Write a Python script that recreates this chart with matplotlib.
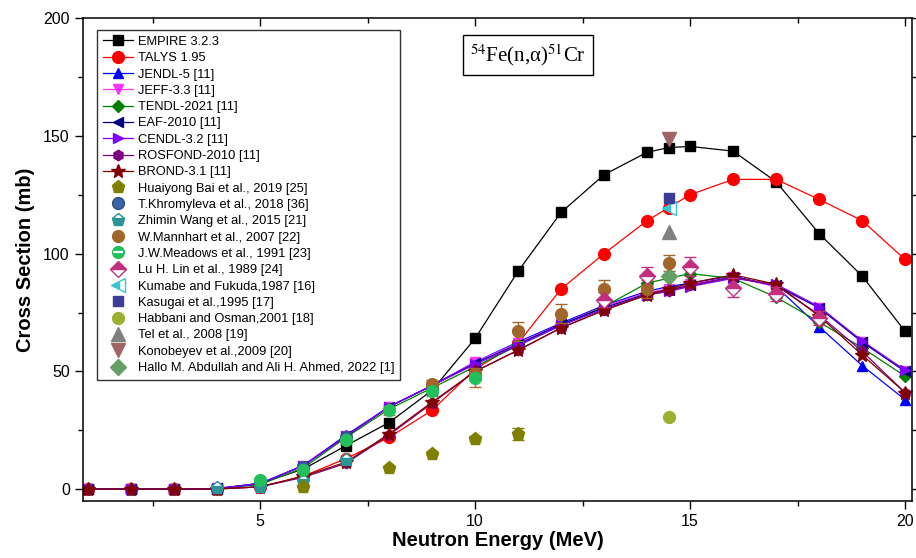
"""
54Fe(n,alpha)51Cr excitation function: model calcs, evaluations and measurements
"""

import matplotlib
matplotlib.use('Agg')
import matplotlib.pyplot as plt
from matplotlib.ticker import MultipleLocator

plt.rcParams['font.family'] = ['Liberation Sans', 'DejaVu Sans']
plt.rcParams['mathtext.fontset'] = 'stix'

# ---- data -------------------------------------------------------------
energy = [1, 2, 3, 4, 5, 6, 7, 8, 9, 10, 11, 12, 13, 14, 14.5, 15, 16, 17, 18, 19, 20]

empire = [0, 0, 0, 0.2, 2.5, 8.5, 18.5, 28.3, 42, 64, 92.5, 117.5, 133.5, 143, 145, 145.5, 143.5, 130.5, 108.5, 90.5, 67]
talys = [0, 0, 0, 0.1, 1, 5.5, 13, 22, 33.5, 51, 62, 85, 100, 114, 119.5, 125, 131.5, 131.5, 123, 114, 97.5]
jendl5 = [0, 0, 0, 0.3, 2.5, 10, 23, 35, 44, 54, 62.5, 70.5, 78, 84, 86, 87.5, 90.5, 86, 69, 52.5, 38]
jeff33 = [0, 0, 0, 0.3, 2.3, 10, 22.5, 35, 44, 54, 62, 70, 77.5, 83.5, 85, 87, 90, 86, 77, 62.5, 50]
tendl = [0, 0, 0, 0.2, 2, 9, 22, 34, 43, 52, 61, 69.5, 77.5, 87.5, 89.5, 91.5, 89.5, 81.5, 71, 60, 48]
eaf = [0, 0, 0, 0.3, 2.3, 10, 22.5, 35, 44, 53.5, 61.5, 70, 77, 83, 84.5, 86.5, 90, 86.5, 77, 62.5, 50]
cendl = [0, 0, 0, 0.3, 2.3, 10, 22.5, 35, 44, 53, 61, 69.5, 76.5, 82.5, 84, 86, 89.5, 87, 77.5, 63, 50.5]
rosfond = [0, 0, 0, 0.1, 1, 5, 11, 23, 36.5, 50, 59, 68.5, 76, 82.5, 84, 86.5, 90, 86.5, 74, 58.5, 41]
brond = [0, 0, 0, 0.1, 1, 5.5, 11.5, 23.5, 37, 50, 59, 68.5, 76, 82.5, 85, 87.5, 91, 87, 73.5, 57, 41]

bai_x = [6, 8, 9, 10, 11]
bai_y = [1, 9, 15, 21.5, 23.5]
bai_err = [0, 0, 0, 1, 2.5]

khrom_x = [5, 6, 7]
khrom_y = [2.5, 9.5, 22]

wang_x = [4, 5, 6, 7]
wang_y = [0.5, 1, 3.5, 12.5]

mann_x = [9, 10, 11, 12, 13, 14, 14.5]
mann_y = [44.5, 49, 67, 74.5, 85, 85, 96]
mann_err = [2, 2.5, 4, 4, 4, 4, 3.5]

mead_x = [5, 6, 7, 8, 9, 10]
mead_y = [3.8, 8.3, 21, 33.5, 41.5, 47]
mead_err = [1, 1, 1.5, 2, 2, 3.5]

lin_x = [13, 14, 15, 16, 17, 18]
lin_y = [80.5, 90.5, 94.5, 85.5, 83, 72.5]
lin_err = [3, 4, 4, 4, 3, 3]

single_x = [14.5]
kumabe_y = [119.5]
kasugai_y = [123.5]
habbani_y = [30.8]
tel_y = [109]
konob_y = [148.5]
hallo_y = [90.5]

# ---- figure -----------------------------------------------------------
fig = plt.figure(figsize=(9.16, 5.58), dpi=100)
ax = fig.add_axes([0.0906, 0.1022, 0.905, 0.8655])

handles = []

h, = ax.plot(energy, empire, '-s', color='black', lw=0.9, ms=7, label='EMPIRE 3.2.3')
handles.append(h)
h, = ax.plot(energy, talys, '-o', color='#ff0000', lw=0.9, ms=8.5, label='TALYS 1.95')
handles.append(h)

evals = [
    (jendl5, '^', '#0000ff', 'JENDL-5 [11]'),
    (jeff33, 'v', '#ff33ff', 'JEFF-3.3 [11]'),
    (tendl, 'D', '#008000', 'TENDL-2021 [11]'),
    (eaf, '<', '#000080', 'EAF-2010 [11]'),
    (cendl, '>', '#8000ff', 'CENDL-3.2 [11]'),
    (rosfond, 'h', '#800080', 'ROSFOND-2010 [11]'),
    (brond, '*', '#800000', 'BROND-3.1 [11]'),
]
for vals, mk, col, lab in evals:
    ms = 10 if mk == '*' else 7.5
    if mk == 'D':
        ms = 6.5
    h, = ax.plot(energy, vals, '-', marker=mk, color=col, lw=0.9, ms=ms, label=lab)
    handles.append(h)

# experimental data
def exp_err(x, y, err, mk, col, lab, ms=8.5, **kw):
    eb = ax.errorbar(x, y, yerr=err, fmt=mk, color=col, ms=ms, capsize=4,
                     elinewidth=1, capthick=1, label=lab, **kw)
    return eb[0]

h = exp_err(bai_x, bai_y, bai_err, 'p', '#808000', 'Huaiyong Bai et al., 2019 [25]', ms=9.5)
handles.append(h)
h, = ax.plot(khrom_x, khrom_y, 'o', color='#3a64a8', mec='#2a4a80', ms=8.5,
             label='T.Khromyleva et al., 2018 [36]')
handles.append(h)
h, = ax.plot(wang_x, wang_y, 'p', color='#2b9494', ms=9.5, fillstyle='bottom',
             markerfacecoloralt='white', mec='#2b9494', label='Zhimin Wang et al., 2015 [21]')
handles.append(h)
h = exp_err(mann_x, mann_y, mann_err, 'o', '#a0662a', 'W.Mannhart et al., 2007 [22]', ms=8.5)
handles.append(h)
h1 = exp_err(mead_x, mead_y, mead_err, 'o', '#22c05a', 'J.W.Meadows et al., 1991 [23]',
             ms=8.5, ecolor='#b06a2a')
h2, = ax.plot(mead_x, mead_y, '_', color='white', ms=7, mew=1.6)
handles.append((h1, h2))
h = exp_err(lin_x, lin_y, lin_err, 'D', '#c0307f', 'Lu H. Lin et al., 1989 [24]', ms=8,
            fillstyle='top', markerfacecoloralt='white')
handles.append(h)
h, = ax.plot(single_x, kumabe_y, '<', color='#38c4d4', ms=9.5, fillstyle='left',
             markerfacecoloralt='white', label='Kumabe and Fukuda,1987 [16]')
handles.append(h)
h, = ax.plot(single_x, kasugai_y, 's', color='#3c3c9a', ms=7, label='Kasugai et al.,1995 [17]')
handles.append(h)
h, = ax.plot(single_x, habbani_y, 'o', color='#9ab030', ms=8.5, label='Habbani and Osman,2001 [18]')
handles.append(h)
h, = ax.plot(single_x, tel_y, '^', color='#808080', ms=9.5, label='Tel et al., 2008 [19]')
handles.append(h)
h, = ax.plot(single_x, konob_y, 'v', color='#a06464', ms=9.5, label='Konobeyev et al.,2009 [20]')
handles.append(h)
h, = ax.plot(single_x, hallo_y, 'D', color='#64a064', ms=8,
             label='Hallo M. Abdullah and Ali H. Ahmed, 2022 [1]')
handles.append(h)

labels = ['EMPIRE 3.2.3', 'TALYS 1.95'] + [e[3] for e in evals] + [
    'Huaiyong Bai et al., 2019 [25]', 'T.Khromyleva et al., 2018 [36]',
    'Zhimin Wang et al., 2015 [21]', 'W.Mannhart et al., 2007 [22]',
    'J.W.Meadows et al., 1991 [23]', 'Lu H. Lin et al., 1989 [24]',
    'Kumabe and Fukuda,1987 [16]', 'Kasugai et al.,1995 [17]',
    'Habbani and Osman,2001 [18]', 'Tel et al., 2008 [19]',
    'Konobeyev et al.,2009 [20]', 'Hallo M. Abdullah and Ali H. Ahmed, 2022 [1]']

leg = ax.legend(handles, labels, loc='upper left', bbox_to_anchor=(0.017, 0.975),
                borderaxespad=0, fontsize=9.3, labelspacing=0.33, handlelength=2.3,
                handletextpad=0.4, borderpad=0.45, fancybox=False, framealpha=1,
                edgecolor='#333333', numpoints=1)
leg.get_frame().set_linewidth(1.0)

# reaction label
ax.text(0.537, 0.923, '$^{54}$Fe(n,α)$^{51}$Cr', transform=ax.transAxes,
        fontsize=15, family='Liberation Serif', ha='center', va='center',
        bbox=dict(boxstyle='square,pad=0.35', facecolor='white', edgecolor='black', lw=1))

# axes
ax.set_xlim(0.88, 20.16)
ax.set_ylim(-5, 200)
ax.xaxis.set_major_locator(MultipleLocator(5))
ax.xaxis.set_minor_locator(MultipleLocator(2.5))
ax.yaxis.set_major_locator(MultipleLocator(50))
ax.yaxis.set_minor_locator(MultipleLocator(25))
ax.tick_params(which='both', direction='out', labelsize=11.5, width=1)
ax.tick_params(which='major', length=6)
ax.tick_params(which='minor', length=3.5)
ax.tick_params(which='both', top=True, right=True)
# mirrored ticks on the top/right frame point inward
for t in ax.xaxis.get_major_ticks() + ax.xaxis.get_minor_ticks():
    t.tick2line.set_marker(3)
for t in ax.yaxis.get_major_ticks() + ax.yaxis.get_minor_ticks():
    t.tick2line.set_marker(1)
for sp in ax.spines.values():
    sp.set_linewidth(1.1)

ax.set_xlabel('Neutron Energy (MeV)', fontsize=14.5, fontweight='bold', labelpad=1)
ax.set_ylabel('Cross Section (mb)', fontsize=14.5, fontweight='bold', labelpad=6)

plt.savefig('out.png', dpi=100)
plt.close()
